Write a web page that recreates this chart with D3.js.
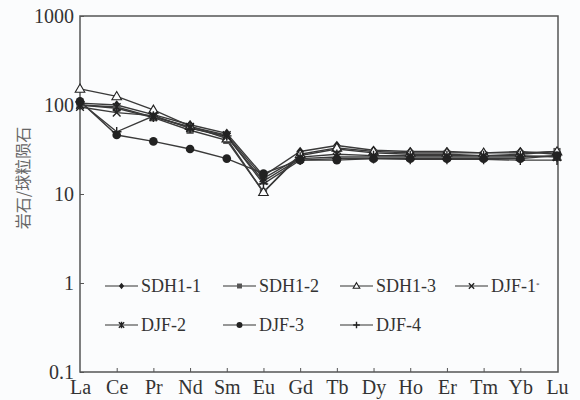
<!DOCTYPE html>
<html>
<head>
    <meta charset="UTF-8">
    <title>REE chondrite-normalised pattern</title>
    <script src="https://d3js.org/d3.v7.min.js"></script>
    <style>
        body { margin: 0; background: #fbfcfd; }
        svg { display: block; }
    </style>
</head>
<body>
    <div id="chart"></div>
    <script>
        // REE elements (x axis)
        const elements = ["La", "Ce", "Pr", "Nd", "Sm", "Eu", "Gd", "Tb", "Dy", "Ho", "Er", "Tm", "Yb", "Lu"];
        const yTicks = [0.1, 1, 10, 100, 1000];
        const seriesNames = ["SDH1-1", "SDH1-2", "SDH1-3", "DJF-1", "DJF-2", "DJF-3", "DJF-4"];

        // rock / chondrite values
        const sdh1_1 = [105, 100, 78, 60, 48, 16, 30, 35, 31, 30, 30, 29, 30, 28];
        const sdh1_2 = [100, 92, 72, 52, 40, 10.5, 27, 32, 29, 28, 28, 27, 28, 30];
        const sdh1_3 = [152, 125, 88, 58, 42, 10.5, 28, 33, 30, 29, 29, 29, 29, 30];
        const djf_1 = [95, 82, 76, 55, 44, 14, 25, 26, 26, 26, 26, 26, 26, 27];
        const djf_2 = [100, 95, 73, 57, 46, 15, 26, 28, 27, 27, 27, 27, 27, 26];
        const djf_3 = [110, 46, 39, 32, 25, 17, 24, 24, 25, 25, 25, 25, 25, 27];
        const djf_4 = [108, 50, 75, 55, 45, 13, 24, 25, 25, 24.5, 24.5, 24.5, 24, 24];

        const allSeries = [sdh1_1, sdh1_2, sdh1_3, djf_1, djf_2, djf_3, djf_4];
        const symbols = ["diamond", "square", "triangle", "cross", "star", "circle", "plus"];

        const w = 580, h = 400;
        const plotLeft = 80, plotRight = 557, plotTop = 16, plotBottom = 372;
        const serif = '"Liberation Serif"';

        const svg = d3.select("#chart").append("svg")
            .attr("width", w)
            .attr("height", h);

        const x = d3.scalePoint().domain(elements).range([plotLeft, plotRight]);
        const y = d3.scaleLog().domain([0.1, 1000]).range([plotBottom, plotTop]);

        // frame
        svg.append("rect")
            .attr("x", plotLeft).attr("y", plotTop)
            .attr("width", plotRight + 1 - plotLeft).attr("height", plotBottom - plotTop)
            .attr("fill", "none").attr("stroke", "#555").attr("stroke-width", 1.5);

        const xAxis = svg.append("g")
            .attr("transform", "translate(0," + plotBottom + ")")
            .call(d3.axisBottom(x).tickSize(-4).tickPadding(11));
        xAxis.attr("font-family", null);
        xAxis.select(".domain").remove();
        xAxis.selectAll(".tick line").attr("stroke", "#555");
        xAxis.selectAll(".tick text")
            .style("font-family", serif)
            .attr("font-size", 20)
            .attr("fill", "#333")
            .attr("dy", "0.55em");
        xAxis.selectAll(".tick").filter(d => d === "La" || d === "Lu").select("line").remove();

        const yAxis = svg.append("g")
            .attr("transform", "translate(" + plotLeft + ",0)")
            .call(d3.axisLeft(y).tickValues(yTicks).tickFormat(d3.format("")).tickSize(-4).tickPadding(6));
        yAxis.attr("font-family", null);
        yAxis.select(".domain").remove();
        yAxis.selectAll(".tick line").attr("stroke", "#555");
        yAxis.selectAll(".tick text")
            .style("font-family", serif)
            .attr("font-size", 20)
            .attr("fill", "#333")
            .attr("dy", "0.32em");

        svg.append("text")
            .attr("transform", "translate(29,178) rotate(-90)")
            .attr("text-anchor", "middle")
            .style("font-family", '"Noto Sans CJK SC"')
            .attr("font-size", 16)
            .attr("fill", "#666")
            .text("岩石/球粒陨石");

        function drawMarker(g, type, cx, cy, s) {
            const col = "#222";
            if (type === "diamond") {
                g.append("path").attr("d", `M${cx},${cy - s}L${cx + s * 0.8},${cy}L${cx},${cy + s}L${cx - s * 0.8},${cy}Z`).attr("fill", col);
            } else if (type === "square") {
                g.append("rect").attr("x", cx - s * 0.75).attr("y", cy - s * 0.75)
                    .attr("width", s * 1.5).attr("height", s * 1.5).attr("fill", "#555");
            } else if (type === "triangle") {
                g.append("path").attr("d", `M${cx},${cy - s}L${cx + s},${cy + s * 0.7}L${cx - s},${cy + s * 0.7}Z`)
                    .attr("fill", "#fbfcfd").attr("stroke", col).attr("stroke-width", 1.1);
            } else if (type === "cross") {
                g.append("path").attr("d", `M${cx - s * 0.8},${cy - s * 0.8}L${cx + s * 0.8},${cy + s * 0.8}M${cx - s * 0.8},${cy + s * 0.8}L${cx + s * 0.8},${cy - s * 0.8}`)
                    .attr("stroke", col).attr("stroke-width", 1.4);
            } else if (type === "star") {
                g.append("path").attr("d", `M${cx - s * 0.8},${cy - s * 0.8}L${cx + s * 0.8},${cy + s * 0.8}M${cx - s * 0.8},${cy + s * 0.8}L${cx + s * 0.8},${cy - s * 0.8}M${cx},${cy - s}L${cx},${cy + s}`)
                    .attr("stroke", col).attr("stroke-width", 1.4);
            } else if (type === "circle") {
                g.append("circle").attr("cx", cx).attr("cy", cy).attr("r", s * 0.9).attr("fill", col);
            } else if (type === "plus") {
                g.append("path").attr("d", `M${cx - s},${cy}L${cx + s},${cy}M${cx},${cy - s}L${cx},${cy + s}`)
                    .attr("stroke", col).attr("stroke-width", 1.4);
            }
        }

        const line = d3.line()
            .x((d, i) => x(elements[i]))
            .y(d => y(d));

        allSeries.forEach((vals, k) => {
            svg.append("path")
                .datum(vals)
                .attr("d", line)
                .attr("fill", "none")
                .attr("stroke", "#3a3a3a")
                .attr("stroke-width", 1.4);
        });
        allSeries.forEach((vals, k) => {
            const g = svg.append("g");
            vals.forEach((v, i) => drawMarker(g, symbols[k], x(elements[i]), y(v), 4.8));
        });

        // legend
        const legendPos = [[105, 286], [223, 286], [340, 286], [455, 286], [105, 325], [223, 325], [340, 325]];
        seriesNames.forEach((name, k) => {
            const [lx, ly] = legendPos[k];
            const g = svg.append("g");
            g.append("line").attr("x1", lx).attr("x2", lx + 33).attr("y1", ly).attr("y2", ly)
                .attr("stroke", "#333").attr("stroke-width", 1.2);
            drawMarker(g, symbols[k], lx + 16.5, ly, 3.3);
            const t = g.append("text")
                .attr("x", lx + 36).attr("y", ly)
                .attr("dy", "0.35em")
                .style("font-family", serif)
                .attr("font-size", 18)
                .attr("fill", "#333")
                .text(name);
            if (name === "DJF-1") {
                t.append("tspan").attr("dy", "-0.8em").attr("font-size", 7).text("*");
            }
        });
    </script>
</body>
</html>
